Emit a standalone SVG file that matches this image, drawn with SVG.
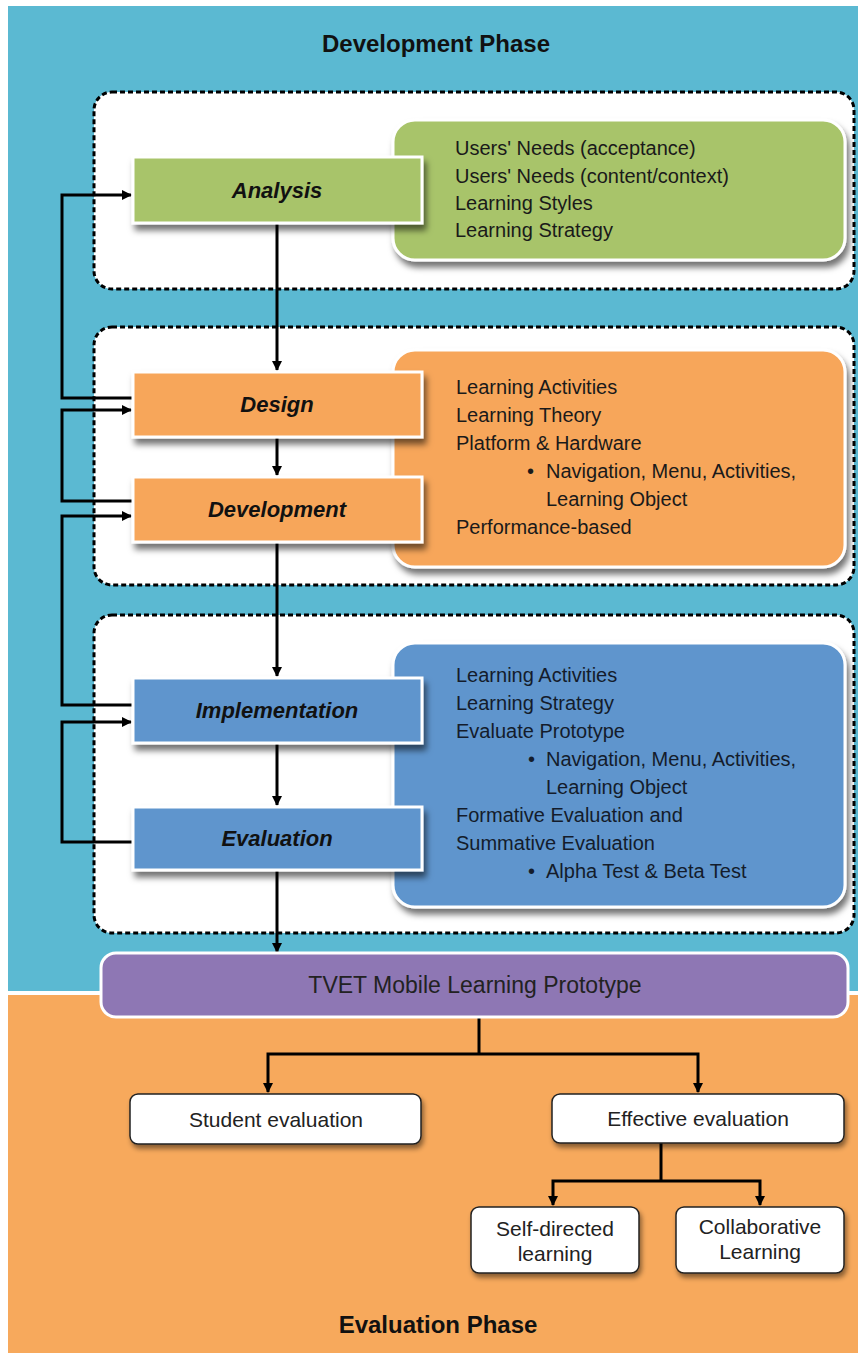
<svg xmlns="http://www.w3.org/2000/svg" width="858" height="1353" viewBox="0 0 858 1353">
  <defs>
    <filter id="shadow" x="-10%" y="-20%" width="130%" height="160%">
      <feDropShadow dx="3" dy="6" stdDeviation="3" flood-color="#000" flood-opacity="0.55"/>
    </filter>
    <filter id="softShadow" x="-10%" y="-20%" width="130%" height="160%">
      <feDropShadow dx="2" dy="4" stdDeviation="2.5" flood-color="#000" flood-opacity="0.45"/>
    </filter>
    <marker id="arrow" viewBox="0 0 10 10" refX="9" refY="5" markerWidth="10" markerHeight="10" markerUnits="userSpaceOnUse" orient="auto">
      <path d="M0,0 L10,5 L0,10 z" fill="#000"/>
    </marker>
    <style>
      .phase { font-family: "Liberation Sans", Arial, sans-serif; font-weight: bold; font-size: 24px; fill: #111; text-anchor: middle; }
      .container { fill: #fff; stroke: #000; stroke-width: 3; stroke-dasharray: 5 3; }
      .step { stroke: #fff; stroke-width: 3; filter: url(#shadow); }
      .detail { stroke: #fff; stroke-width: 3; filter: url(#shadow); }
      .stepLabel { font-family: "Liberation Sans", Arial, sans-serif; font-weight: bold; font-style: italic; font-size: 22px; fill: #111; text-anchor: middle; }
      .detailText { font-family: "Liberation Sans", Arial, sans-serif; font-size: 20px; fill: #1a1a1a; }
      .blueText { fill: #141c2b; }
      .outcome { fill: #fff; stroke: #222; stroke-width: 1.5; filter: url(#softShadow); }
      .outText { font-family: "Liberation Sans", Arial, sans-serif; font-size: 21px; fill: #222; text-anchor: middle; }
      .link { fill: none; stroke: #000; stroke-width: 3; }
      .linkArrow { fill: none; stroke: #000; stroke-width: 3; marker-end: url(#arrow); }
    </style>
  </defs>

  <!-- phase backgrounds -->
  <g id="background">
    <rect x="0" y="0" width="858" height="1353" fill="#ffffff"/>
    <rect x="8" y="6" width="850" height="985" fill="#5BB9D2"/>
    <rect x="8" y="995" width="850" height="358" fill="#F7A95C"/>
    <text class="phase" x="436" y="52">Development Phase</text>
    <text class="phase" x="438" y="1333">Evaluation Phase</text>
  </g>

  <!-- dashed phase groupings -->
  <g id="stage-groups">
    <rect class="container" x="94" y="92" width="760" height="197" rx="18"/>
    <rect class="container" x="94" y="327" width="760" height="258" rx="18"/>
    <rect class="container" x="94" y="615" width="760" height="318" rx="18"/>
  </g>

  <!-- detail panels -->
  <g id="analysis-details">
    <rect class="detail" x="393" y="120" width="452" height="140" rx="22" fill="#A8C46A"/>
    <text class="detailText" x="455" y="155">Users' Needs (acceptance)</text>
    <text class="detailText" x="455" y="183">Users' Needs (content/context)</text>
    <text class="detailText" x="455" y="210">Learning Styles</text>
    <text class="detailText" x="455" y="237">Learning Strategy</text>
  </g>

  <g id="design-details">
    <rect class="detail" x="393" y="350" width="452" height="217" rx="22" fill="#F7A65A"/>
    <text class="detailText" x="456" y="394">Learning Activities</text>
    <text class="detailText" x="456" y="422">Learning Theory</text>
    <text class="detailText" x="456" y="450">Platform &amp; Hardware</text>
    <text class="detailText" x="527" y="478">•</text>
    <text class="detailText" x="546" y="478">Navigation, Menu, Activities,</text>
    <text class="detailText" x="546" y="506">Learning Object</text>
    <text class="detailText" x="456" y="534">Performance-based</text>
  </g>

  <g id="implementation-details">
    <rect class="detail" x="393" y="643" width="452" height="264" rx="22" fill="#5E95CD"/>
    <text class="detailText blueText" x="456" y="682">Learning Activities</text>
    <text class="detailText blueText" x="456" y="710">Learning Strategy</text>
    <text class="detailText blueText" x="456" y="738">Evaluate Prototype</text>
    <text class="detailText blueText" x="528" y="766">•</text>
    <text class="detailText blueText" x="546" y="766">Navigation, Menu, Activities,</text>
    <text class="detailText blueText" x="546" y="794">Learning Object</text>
    <text class="detailText blueText" x="456" y="822">Formative Evaluation and</text>
    <text class="detailText blueText" x="456" y="850">Summative Evaluation</text>
    <text class="detailText blueText" x="528" y="878">•</text>
    <text class="detailText blueText" x="546" y="878">Alpha Test &amp; Beta Test</text>
  </g>

  <!-- connectors -->
  <g id="connectors">
    <!-- main flow -->
    <line class="linkArrow" x1="277" y1="223" x2="277" y2="370"/>
    <line class="linkArrow" x1="277" y1="437" x2="277" y2="475"/>
    <line class="linkArrow" x1="277" y1="542" x2="277" y2="676"/>
    <line class="linkArrow" x1="277" y1="743" x2="277" y2="805"/>
    <line class="linkArrow" x1="277" y1="870" x2="277" y2="952"/>
    <!-- feedback loops -->
    <polyline class="linkArrow" points="133,398 62,398 62,195 131,195"/>
    <polyline class="linkArrow" points="133,501 62,501 62,410 131,410"/>
    <polyline class="linkArrow" points="133,705 62,705 62,516 131,516"/>
    <polyline class="linkArrow" points="133,842 62,842 62,722 131,722"/>
    <!-- evaluation branches -->
    <polyline class="link" points="479,1017 479,1054"/>
    <polyline class="linkArrow" points="479,1054 268,1054 268,1092"/>
    <polyline class="linkArrow" points="479,1054 698,1054 698,1092"/>
    <polyline class="link" points="661,1143 661,1181"/>
    <polyline class="linkArrow" points="661,1181 553,1181 553,1205"/>
    <polyline class="linkArrow" points="661,1181 760,1181 760,1205"/>
  </g>

  <!-- process steps -->
  <g id="analysis">
    <rect class="step" x="133" y="157" width="289" height="66" fill="#A8C46A"/>
    <text class="stepLabel" x="277" y="198">Analysis</text>
  </g>
  <g id="design">
    <rect class="step" x="133" y="372" width="289" height="65" fill="#F7A65A"/>
    <text class="stepLabel" x="277" y="412">Design</text>
  </g>
  <g id="development">
    <rect class="step" x="133" y="477" width="289" height="65" fill="#F7A65A"/>
    <text class="stepLabel" x="277" y="517">Development</text>
  </g>
  <g id="implementation">
    <rect class="step" x="133" y="678" width="289" height="65" fill="#5E95CD"/>
    <text class="stepLabel" x="277" y="718">Implementation</text>
  </g>
  <g id="evaluation">
    <rect class="step" x="133" y="807" width="289" height="63" fill="#5E95CD"/>
    <text class="stepLabel" x="277" y="846">Evaluation</text>
  </g>

  <!-- prototype -->
  <g id="prototype">
    <rect x="101" y="953" width="747" height="64" rx="15" fill="#8E77B4" stroke="#fff" stroke-width="3"/>
    <text class="outText" x="475" y="993" style="font-size:23px">TVET Mobile Learning Prototype</text>
  </g>

  <!-- evaluation outcomes -->
  <g id="student-evaluation">
    <rect class="outcome" x="130" y="1094" width="291" height="50" rx="8"/>
    <text class="outText" x="276" y="1127">Student evaluation</text>
  </g>
  <g id="effective-evaluation">
    <rect class="outcome" x="552" y="1094" width="292" height="49" rx="8"/>
    <text class="outText" x="698" y="1126">Effective evaluation</text>
  </g>
  <g id="self-directed">
    <rect class="outcome" x="471" y="1207" width="168" height="66" rx="8"/>
    <text class="outText" x="555" y="1236">Self-directed</text>
    <text class="outText" x="555" y="1261">learning</text>
  </g>
  <g id="collaborative">
    <rect class="outcome" x="676" y="1207" width="168" height="66" rx="8"/>
    <text class="outText" x="760" y="1234">Collaborative</text>
    <text class="outText" x="760" y="1259">Learning</text>
  </g>
</svg>
